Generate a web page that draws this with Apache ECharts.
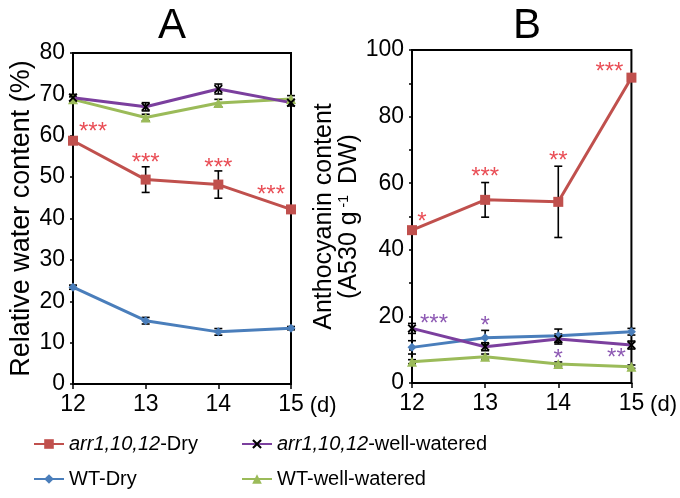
<!DOCTYPE html>
<html><head><meta charset="utf-8">
<script src="https://cdn.jsdelivr.net/npm/echarts@6/dist/echarts.min.js"></script>
<style>html,body{margin:0;padding:0;background:#fff}#c{width:680px;height:498px}</style>
</head><body><div id="c"></div><script>
// ---------- data ----------
const days = [12, 13, 14, 15];
const nameMutDry = 'arr1,10,12-Dry';
const nameMutWW = 'arr1,10,12-well-watered';
const nameWTDry = 'WT-Dry';
const nameWTWW = 'WT-well-watered';
const yTicksA = [0, 10, 20, 30, 40, 50, 60, 70, 80];
const yTicksB = [0, 20, 40, 60, 80, 100];
// Panel A: relative water content (%)
const rwcMutDry = [58.8, 49.4, 48.2, 42.2];
const rwcMutDryErr = [0.8, 3.1, 3.3, 0.6];
const rwcMutWW = [69.2, 67.0, 71.3, 68.0];
const rwcMutWWErr = [0.8, 1.0, 1.2, 0.8];
const rwcWTDry = [23.4, 15.3, 12.6, 13.5];
const rwcWTDryErr = [0.5, 0.8, 0.8, 0.4];
const rwcWTWW = [68.8, 64.4, 67.9, 68.9];
const rwcWTWWErr = [0.6, 0.8, 0.9, 0.8];
// Panel B: anthocyanin content
const antMutDry = [45.9, 55.0, 54.4, 91.7];
const antMutDryErr = [1.0, 5.2, 10.7, 1.0];
const antMutWW = [16.4, 10.9, 13.2, 11.4];
const antMutWWErr = [1.5, 1.2, 1.5, 1.2];
const antWTDry = [10.7, 13.6, 14.2, 15.4];
const antWTDryErr = [2.0, 2.2, 2.0, 1.0];
const antWTWW = [6.4, 7.9, 5.7, 4.9];
const antWTWWErr = [0.6, 0.8, 0.6, 0.5];
// significance marks
const sigA = ['***', '***', '***', '***'];
const sigBDry = ['*', '***', '**', '***'];
const sigBWW = ['***', '*', '*', '**'];

// ---------- styles ----------
const FONT = 'Liberation Sans, Arial, sans-serif';
const C_RED = '#C0504D', C_PUR = '#7B3F9E', C_BLU = '#4A7EBB', C_GRN = '#9BBB59';
const C_STAR_RED = '#E3202A', C_STAR_PUR = '#7030A0';
const XSYM = 'path://M0,1.5L1.5,0L5,3.5L8.5,0L10,1.5L6.5,5L10,8.5L8.5,10L5,6.5L1.5,10L0,8.5L3.5,5Z';
const STAR_DY = 5; // asterisk glyph sits high in its box
const offA = [[20, -13], [0, -21], [0, -21], [-20, -19]];
const offBDry = [[10, -13], [0, -27], [0, -45], [-22, -10]];
const offBWW = [[22, -9], [0, -25], [0, 15], [-15, 8]];

function pts(vals) { return days.map((d, i) => [d, vals[i]]); }
function errs(vals, e) { return days.map((d, i) => [d, vals[i] - e[i], vals[i] + e[i]]); }

function errRender(params, api) {
  const x = api.value(0), lo = api.value(1), hi = api.value(2);
  const p1 = api.coord([x, hi]), p2 = api.coord([x, lo]);
  const w = 4, st = { stroke: '#000', lineWidth: 1.6 };
  return { type: 'group', children: [
    { type: 'line', shape: { x1: p1[0], y1: p1[1], x2: p2[0], y2: p2[1] }, style: st },
    { type: 'line', shape: { x1: p1[0] - w, y1: p1[1], x2: p1[0] + w, y2: p1[1] }, style: st },
    { type: 'line', shape: { x1: p2[0] - w, y1: p2[1], x2: p2[0] + w, y2: p2[1] }, style: st }
  ]};
}
function errSeries(g, vals, e) {
  return { type: 'custom', xAxisIndex: g, yAxisIndex: g, renderItem: errRender,
    data: errs(vals, e), z: 1, clip: false, silent: true };
}
const symStyle = {
  [nameMutDry]: { symbol: 'rect', symbolSize: 10, line: C_RED, item: C_RED },
  [nameMutWW]: { symbol: XSYM, symbolSize: 9, line: C_PUR, item: '#000' },
  [nameWTDry]: { symbol: 'diamond', symbolSize: 9, line: C_BLU, item: C_BLU },
  [nameWTWW]: { symbol: 'triangle', symbolSize: 10, line: C_GRN, item: C_GRN }
};
function lineSeries(g, name, vals) {
  const s = symStyle[name];
  return { type: 'line', name, xAxisIndex: g, yAxisIndex: g, data: pts(vals),
    symbol: s.symbol, symbolSize: s.symbolSize, showSymbol: true, clip: false, z: 3,
    lineStyle: { color: s.line, width: 3 }, itemStyle: { color: s.item }, animation: false };
}
function starSeries(g, vals, marks, offs, color) {
  return { type: 'scatter', xAxisIndex: g, yAxisIndex: g, symbolSize: 0, z: 5, clip: false, silent: true,
    data: days.map((d, i) => ({ value: [d, vals[i]],
      label: { show: true, formatter: marks[i], position: 'inside',
        offset: [offs[i][0], offs[i][1] + STAR_DY], color, fontSize: 24, fontFamily: FONT } })) };
}

function xAx(g) {
  return { type: 'value', gridIndex: g, min: 12, max: 15, interval: 1,
    name: '(d)', nameLocation: 'end', nameGap: 8,
    nameTextStyle: { fontSize: 22, color: '#000', fontFamily: FONT, align: 'left', verticalAlign: 'top', padding: [11, 0, 0, 0] },
    axisLine: { lineStyle: { color: '#000', width: 2 } },
    axisTick: { show: true, length: 5, lineStyle: { color: '#000', width: 1.5 } },
    axisLabel: { fontSize: 23, color: '#000', fontFamily: FONT, margin: 9 },
    splitLine: { show: false } };
}

const option = {
  backgroundColor: '#fff',
  animation: false,
  textStyle: { fontFamily: FONT },
  title: [
    { text: 'A', left: 167, top: 0, textAlign: 'center', textStyle: { fontSize: 42, fontWeight: 'normal', color: '#000', fontFamily: FONT } },
    { text: 'B', left: 522, top: 0, textAlign: 'center', textStyle: { fontSize: 42, fontWeight: 'normal', color: '#000', fontFamily: FONT } }
  ],
  grid: [
    { left: 73, top: 53, width: 218, height: 331, show: true, borderColor: '#000', borderWidth: 2, backgroundColor: 'transparent' },
    { left: 412, top: 50, width: 225, height: 333, show: true, borderColor: '#000', borderWidth: 2, backgroundColor: 'transparent' }
  ],
  xAxis: [xAx(0), xAx(1)],
  yAxis: [
    { type: 'value', gridIndex: 0, min: yTicksA[0], max: yTicksA[yTicksA.length - 1], interval: 10,
      name: 'Relative water content (%)', nameLocation: 'middle', nameGap: 38,
      nameTextStyle: { fontSize: 27, color: '#000', fontFamily: FONT },
      axisLine: { show: true, lineStyle: { color: '#000', width: 2 } },
      axisTick: { show: true, length: 3, lineStyle: { color: '#000', width: 1.5 } },
      axisLabel: { fontSize: 23, color: '#000', fontFamily: FONT, margin: 8 },
      splitLine: { show: false } },
    { type: 'value', gridIndex: 1, min: yTicksB[0], max: yTicksB[yTicksB.length - 1], interval: 20,
      name: 'Anthocyanin content\n(A530 g{sup| -1} DW)', nameLocation: 'middle', nameGap: 48,
      nameTextStyle: { fontSize: 25, lineHeight: 25, color: '#000', fontFamily: FONT,
        rich: { sup: { fontSize: 14, verticalAlign: 'top', lineHeight: 25, padding: [0, 4, 10, 0], fontFamily: FONT, color: '#000' } } },
      axisLine: { show: true, lineStyle: { color: '#000', width: 2 } },
      axisTick: { show: true, length: 3, lineStyle: { color: '#000', width: 1.5 } },
      minorTick: { show: true, splitNumber: 2, length: 3, lineStyle: { color: '#000', width: 1.5 } },
      axisLabel: { fontSize: 23, color: '#000', fontFamily: FONT, margin: 8 },
      splitLine: { show: false } }
  ],
  legend: [
    [nameMutDry, 33, 434], [nameMutWW, 241, 434], [nameWTDry, 33, 469], [nameWTWW, 241, 469]
  ].map(([n, l, t]) => ({
    data: [n], left: l, top: t, padding: 0, itemWidth: 30, itemHeight: 12,
    formatter: nm => nm.startsWith('arr') ? '{i|arr1,10,12}' + nm.slice(10) : nm,
    textStyle: { fontSize: 20, color: '#000', fontFamily: FONT,
      rich: { i: { fontStyle: 'italic', fontSize: 20, color: '#000', fontFamily: FONT } } }
  })),
  series: [
    errSeries(0, rwcMutDry, rwcMutDryErr), errSeries(0, rwcMutWW, rwcMutWWErr),
    errSeries(0, rwcWTDry, rwcWTDryErr), errSeries(0, rwcWTWW, rwcWTWWErr),
    lineSeries(0, nameWTDry, rwcWTDry), lineSeries(0, nameWTWW, rwcWTWW),
    lineSeries(0, nameMutWW, rwcMutWW), lineSeries(0, nameMutDry, rwcMutDry),
    errSeries(1, antMutDry, antMutDryErr), errSeries(1, antMutWW, antMutWWErr),
    errSeries(1, antWTDry, antWTDryErr), errSeries(1, antWTWW, antWTWWErr),
    lineSeries(1, nameWTDry, antWTDry), lineSeries(1, nameWTWW, antWTWW),
    lineSeries(1, nameMutWW, antMutWW), lineSeries(1, nameMutDry, antMutDry),
    starSeries(0, rwcMutDry, sigA, offA, C_STAR_RED),
    starSeries(1, antMutDry, sigBDry, offBDry, C_STAR_RED),
    starSeries(1, antMutWW, sigBWW, offBWW, C_STAR_PUR)
  ]
};
const chart = echarts.init(document.getElementById('c'), null, { renderer: 'canvas' });
chart.setOption(option);
</script></body></html>
